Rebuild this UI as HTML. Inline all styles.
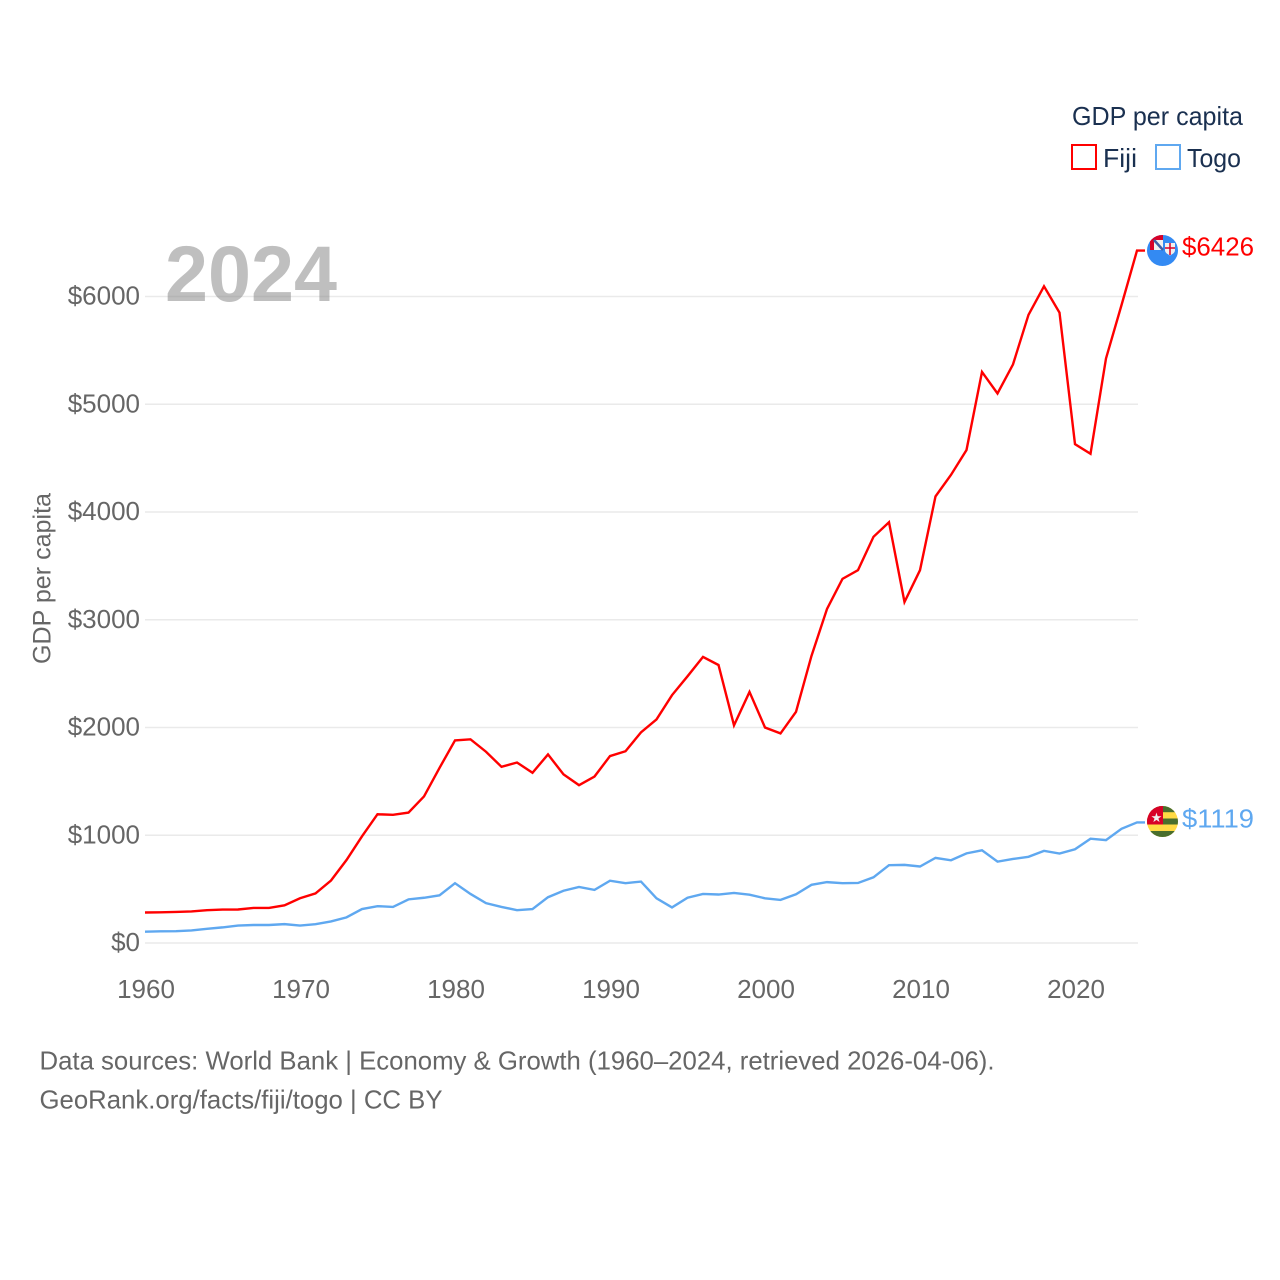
<!DOCTYPE html>
<html lang="en">
<head>
<meta charset="utf-8">
<title>GDP per capita: Fiji and Togo</title>
<style>
html,body{margin:0;padding:0;background:#fff;}
svg{display:block;font-family:"Liberation Sans",sans-serif;}
</style>
</head>
<body>
<svg id="chart" width="1280" height="1280" viewBox="0 0 1280 1280" xmlns="http://www.w3.org/2000/svg">
  <defs>
    <clipPath id="flag-clip-fiji"><circle cx="1162.5" cy="250.5" r="15.5"/></clipPath>
    <clipPath id="flag-clip-togo"><circle cx="1162.5" cy="821.5" r="15.5"/></clipPath>
  </defs>
  <rect width="1280" height="1280" fill="#fff"/>
  <g id="grid"></g>
  <g id="y-ticks"></g>
  <g id="x-ticks"></g>
  <text x="165" y="301" font-size="79" font-weight="700" fill="#808080" fill-opacity="0.5" textLength="172" lengthAdjust="spacingAndGlyphs">2024</text>
  <text transform="translate(50.5,664) rotate(-90)" font-size="25" fill="#666" textLength="171" lengthAdjust="spacingAndGlyphs">GDP per capita</text>
  <g id="series"></g>

  <g clip-path="url(#flag-clip-fiji)">
    <rect x="1147" y="235" width="31" height="31" fill="#338af3"/>
    <rect x="1150" y="235" width="13" height="15" fill="#d80027"/>
    <rect x="1154" y="240" width="9" height="10" fill="#f0f0f0"/>
    <path d="M1154 240l9 10" stroke="#3f5fa8" stroke-width="2.500"/>
    <path d="M1165 243h10v7c0 3-2.500 4-5 5.500c-2.500-1.500-5-2.500-5-5.500z" fill="#f0f0f0"/>
    <path d="M1170 243v12M1165 248h10" stroke="#d80027" stroke-width="1.500"/>
  </g>
  <g clip-path="url(#flag-clip-togo)">
    <rect x="1147" y="806" width="31" height="32" fill="#ffda44"/>
    <rect x="1147" y="806" width="31" height="6.200" fill="#496e2d"/>
    <rect x="1147" y="818.500" width="31" height="6" fill="#496e2d"/>
    <rect x="1147" y="831" width="31" height="7" fill="#496e2d"/>
    <rect x="1147" y="806" width="16" height="18.500" fill="#d80027"/>
    <text x="1156.500" y="822" font-size="13" fill="#f0f0f0" text-anchor="middle" font-family="'DejaVu Sans',sans-serif">★</text>
  </g>
  <text x="1182" y="255.500" font-size="26" fill="#ff0000" textLength="72" lengthAdjust="spacingAndGlyphs">$6426</text>
  <text x="1182" y="827.500" font-size="26" fill="#5fa8f0" textLength="72" lengthAdjust="spacingAndGlyphs">$1119</text>

  <g>
    <text x="1072" y="125" font-size="26" fill="#1a3050" textLength="171" lengthAdjust="spacingAndGlyphs">GDP per capita</text>
    <g>
      <rect x="1072" y="145" width="24" height="24" fill="#fff" stroke="#ff0000" stroke-width="2"/>
      <text x="1103" y="167" font-size="26" fill="#1a3050" textLength="34" lengthAdjust="spacingAndGlyphs">Fiji</text>
    </g>
    <g>
      <rect x="1156" y="145" width="24" height="24" fill="#fff" stroke="#5fa8f0" stroke-width="2"/>
      <text x="1187" y="167" font-size="26" fill="#1a3050" textLength="54" lengthAdjust="spacingAndGlyphs">Togo</text>
    </g>
  </g>

  <g>
    <text x="39.500" y="1069.500" font-size="26" fill="#666" textLength="955" lengthAdjust="spacingAndGlyphs">Data sources: World Bank | Economy &amp; Growth (1960–2024, retrieved 2026-04-06).</text>
    <text x="39.500" y="1108.500" font-size="26" fill="#666" textLength="403" lengthAdjust="spacingAndGlyphs">GeoRank.org/facts/fiji/togo | CC BY</text>
  </g>
</svg>
<script>
const years = [1960,1961,1962,1963,1964,1965,1966,1967,1968,1969,1970,1971,1972,1973,1974,1975,1976,1977,1978,1979,1980,1981,1982,1983,1984,1985,1986,1987,1988,1989,1990,1991,1992,1993,1994,1995,1996,1997,1998,1999,2000,2001,2002,2003,2004,2005,2006,2007,2008,2009,2010,2011,2012,2013,2014,2015,2016,2017,2018,2019,2020,2021,2022,2023,2024];
const fijiValues = [283,285,288,293,305,310,311,325,325,350,415,460,580,770,990,1195,1190,1210,1360,1625,1880,1890,1775,1635,1675,1580,1750,1565,1465,1545,1735,1780,1955,2075,2300,2475,2655,2580,2020,2330,2000,1945,2145,2665,3100,3380,3460,3770,3905,3165,3460,4145,4345,4575,5300,5100,5370,5830,6095,5850,4630,4540,5425,5920,6426];
const togoValues = [105,108,110,117,132,145,162,167,167,175,162,175,200,238,315,342,335,405,420,442,555,455,370,335,305,315,425,485,520,493,578,555,570,415,330,420,455,450,465,448,415,400,452,540,565,555,557,610,722,725,710,790,768,832,860,755,780,800,855,830,870,968,955,1060,1119];
const yTickValues = [0,1000,2000,3000,4000,5000,6000];
const yTickLabels = ["$0","$1000","$2000","$3000","$4000","$5000","$6000"];
const xTickValues = [1960,1970,1980,1990,2000,2010,2020];
const xTickLabels = ["1960","1970","1980","1990","2000","2010","2020"];

const SVG_NS = "http://www.w3.org/2000/svg";
function xScale(year) { return 145 + (year - 1960) * 15.5; }
function yScale(value) { return 943 - value * 0.10775; }
function make(tag, parent) {
  const el = document.createElementNS(SVG_NS, tag);
  parent.appendChild(el);
  return el;
}

const grid = document.getElementById("grid");
const yTicks = document.getElementById("y-ticks");
const xTicks = document.getElementById("x-ticks");
const seriesGroup = document.getElementById("series");

yTickValues.forEach(function (v, i) {
  const line = make("line", grid);
  
  
  line.setAttribute("x1", xScale(1960));
  line.setAttribute("x2", 1138);
  line.setAttribute("y1", yScale(v));
  line.setAttribute("y2", yScale(v));
  line.setAttribute("stroke", "#eaeaea");
  line.setAttribute("stroke-width", 1.5);
  const label = make("text", yTicks);
  
  
  label.setAttribute("x", 140);
  label.setAttribute("y", yScale(v) + 8);
  label.setAttribute("text-anchor", "end");
  label.setAttribute("font-size", 26);
  label.setAttribute("fill", "#666");
  label.textContent = yTickLabels[i];
});

xTickValues.forEach(function (v, i) {
  const label = make("text", xTicks);
  
  
  label.setAttribute("x", xScale(v) + 1);
  label.setAttribute("y", 998);
  label.setAttribute("text-anchor", "middle");
  label.setAttribute("font-size", 26);
  label.setAttribute("fill", "#666");
  label.textContent = xTickLabels[i];
});

function drawSeries(values, color, name) {
  const pts = values.map(function (v, i) {
    return xScale(years[i]).toFixed(2) + "," + yScale(v).toFixed(2);
  });
  const last = values[values.length - 1];
  pts.push((xScale(years[years.length - 1]) + 8).toFixed(2) + "," + yScale(last).toFixed(2));
  const line = make("polyline", seriesGroup);
  
  
  line.setAttribute("points", pts.join(" "));
  line.setAttribute("fill", "none");
  line.setAttribute("stroke", color);
  line.setAttribute("stroke-width", 2.4);
  line.setAttribute("stroke-linejoin", "miter");
}
drawSeries(togoValues, "#5fa8f0", "togo-line");
drawSeries(fijiValues, "#ff0000", "fiji-line");
</script>
</body>
</html>
